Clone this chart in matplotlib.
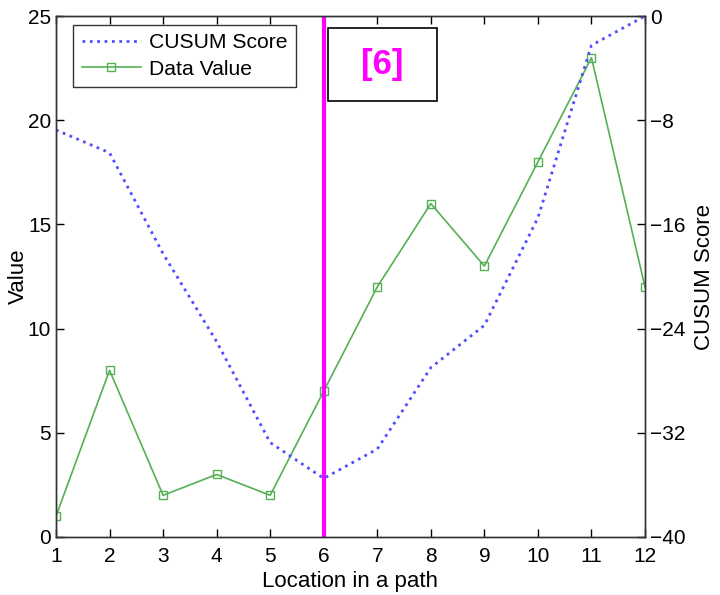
import numpy as np
import matplotlib.pyplot as plt
from matplotlib.patches import Rectangle

location = [1, 2, 3, 4, 5, 6, 7, 8, 9, 10, 11, 12]
data_value = [1, 8, 2, 3, 2, 7, 12, 16, 13, 18, 23, 12]
cusum_score = [-8.75, -10.5, -18.25, -25, -32.75, -35.5, -33.25, -27, -23.75, -15.5, -2.25, 0]
change_point = 6

plt.rcParams['font.family'] = ['Liberation Sans', 'DejaVu Sans']

fig = plt.figure(figsize=(7.2, 5.95), dpi=100)
ax = fig.add_axes([56/720, 1 - 537/595, (645-56)/720, (537-16)/595])
ax2 = ax.twinx()

l1, = ax2.plot(location, cusum_score, ':', color='#5050ff', lw=2)
l2, = ax.plot(location, data_value, '-s', color='#55b055', lw=1.2, ms=6,
              mfc='none', mec='#55b055', mew=1)
ax.axvline(change_point, color='#ff00ff', lw=3)

ax.set_xlim(1, 12)
ax.set_ylim(0, 25)
ax2.set_ylim(-40, 0)
ax.set_xticks(location)
ax.set_yticks([0, 5, 10, 15, 20, 25])
ax2.set_yticks([-40, -32, -24, -16, -8, 0])
ax2.set_yticklabels(['\u221240', '\u221232', '\u221224', '\u221216', '\u22128', '0'])

ax.tick_params(direction='in', length=6, labelsize=15, top=True, width=1)
ax.tick_params(axis='x', pad=7)
ax2.tick_params(direction='in', length=6, labelsize=15, width=1)
for a in (ax, ax2):
    for s in a.spines.values():
        s.set_color('#333333')
        s.set_linewidth(1)

ax.set_xlabel('Location in a path', fontsize=16, labelpad=4)
ax.set_ylabel('Value', fontsize=16, labelpad=-1)
ax2.set_ylabel('CUSUM Score', fontsize=16, labelpad=6)

leg = ax.legend([l1, l2], ['CUSUM Score', 'Data Value'], loc='upper left',
                bbox_to_anchor=(0.029, 0.983), borderaxespad=0, fontsize=15.2,
                frameon=True, fancybox=False, edgecolor='black', handlelength=2.8,
                borderpad=0.4, labelspacing=0.35, handletextpad=0.4)
leg.get_frame().set_linewidth(1)

# annotation box for the detected change point
ax.add_patch(Rectangle((0.462, 0.837), 0.185, 0.140, transform=ax.transAxes,
                       fc='white', ec='black', lw=1.2, zorder=5))
ax.text(0.5545, 0.907, '[6]', transform=ax.transAxes, ha='center', va='center',
        fontsize=25, fontweight='bold', color='#ff00ff', zorder=6)

fig.savefig('out.png', dpi=100)
